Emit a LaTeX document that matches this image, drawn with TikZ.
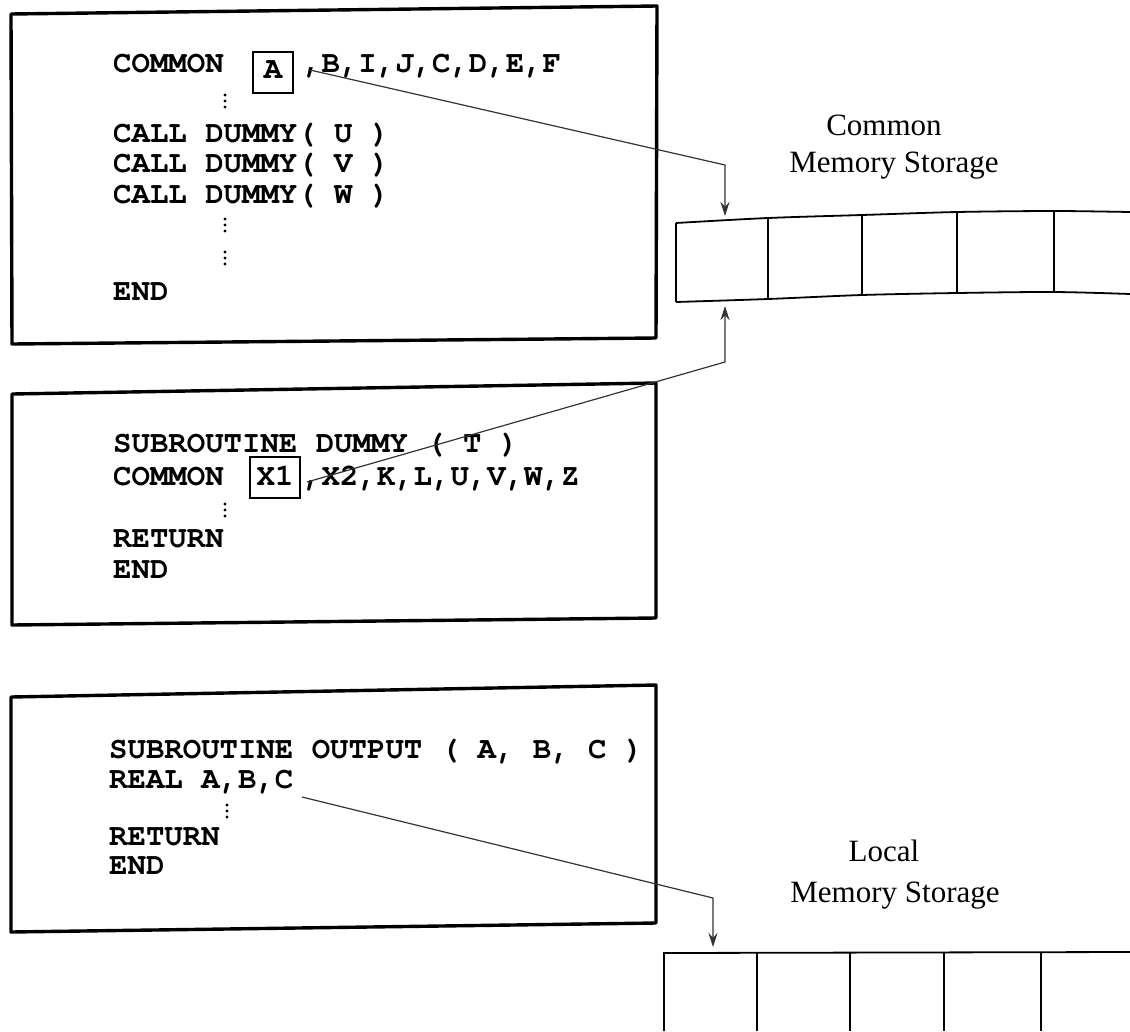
\documentclass[tikz,border=0pt]{standalone}
\usepackage{fontspec}
\setmainfont{Liberation Serif}
\newfontfamily\codefont{texgyrecursor}[Extension=.otf, UprightFont=*-bold, BoldFont=*-bold]
\usetikzlibrary{arrows.meta}
\begin{document}
\begin{tikzpicture}[x=1pt,y=-1pt,
  code/.style={font=\codefont\fontsize{30.7}{30}\selectfont, inner sep=0pt, anchor=base west, text height=18pt, text depth=4pt},
  boxed/.style={draw, line width=2.8pt, font=\codefont\fontsize{30.7}{30}\selectfont, inner sep=0pt, minimum height=41pt},
  lab/.style={font=\fontsize{31}{31}\selectfont, inner sep=0pt, anchor=base},
  frame/.style={line width=3.4pt, line join=round},
  cell/.style={line width=1.8pt},
  conn/.style={line width=1.2pt, black!80, -{Stealth[length=14pt,width=9pt]}},
  vd/.pic={\fill (0,-6) circle (1.7pt) (0,0) circle (1.7pt) (0,6) circle (1.7pt);}
]
\useasboundingbox (0,0) rectangle (1130,1031);

% ---------- Box 1 ----------
\draw[frame] (11,14) -- (657,6) -- (656,338) -- (12,344) -- cycle;
\node[code] (c1) at (113,72) {COMMON};
\node[boxed, text height=17.5pt, text depth=6pt, minimum width=40pt] (bA) at (273,72.5) {A};
\node[code] (c1b) at (303,72) {,B,I,J,C,D,E,F};
\pic at (225,101) {vd};
\node[code] (u1) at (113,142) {CALL DUMMY( U )};
\node[code] (v1) at (113,172) {CALL DUMMY( V )};
\node[code] (w1) at (113,203) {CALL DUMMY( W )};
\pic at (225,225) {vd};
\pic at (225,258) {vd};
\node[code] (e1) at (113,300) {END};

% ---------- Box 2 ----------
\draw[frame] (12,394) -- (656,383) -- (656,618) -- (12,625) -- cycle;
\node[code] (s2) at (113,452) {SUBROUTINE DUMMY ( T )};
\node[code] (c2) at (113,485) {COMMON};
\node[boxed, text height=17.5pt, text depth=2.5pt, minimum width=50pt] (bX) at (275,477.5) {X1};
\node[code] (c2b) at (303,485) {,X2,K,L,U,V,W,Z};
\pic at (225,510) {vd};
\node[code] (r2) at (113,547) {RETURN};
\node[code] (e2) at (113,578) {END};

% ---------- Box 3 ----------
\draw[frame] (11,697) -- (656,685) -- (656,923) -- (11,932) -- cycle;
\node[code] (s3) at (109,758) {SUBROUTINE OUTPUT ( A, B, C )};
\node[code] (re3) at (109,788) {REAL A,B,C};
\pic at (227,811) {vd};
\node[code] (r3) at (109,845) {RETURN};
\node[code] (e3) at (109,874) {END};

% ---------- Common memory storage ----------
\draw[cell] plot[smooth] coordinates {(676,223) (768,218) (862,215) (957,212) (1054,211) (1130,212)};
\draw[cell] plot[smooth] coordinates {(676,302) (768,299) (862,295) (957,293) (1054,292) (1130,294)};
\draw[cell] (676,223) -- (676,302);
\draw[cell] (768,218) -- (768,299);
\draw[cell] (862,215) -- (862,295);
\draw[cell] (957,212) -- (957,293);
\draw[cell] (1054,211) -- (1054,292);
\node[lab] (cm1) at (884,135) {Common};
\node[lab] (cm2) at (894,172) {Memory Storage};

% ---------- Local memory storage ----------
\draw[cell] (664,1031) -- (664,953) -- (1130,952);
\draw[cell] (757,953) -- (757,1031);
\draw[cell] (850,953) -- (850,1031);
\draw[cell] (944,953) -- (944,1031);
\draw[cell] (1041,952) -- (1041,1031);
\node[lab] (lm1) at (884,861) {Local};
\node[lab] (lm2) at (895,902) {Memory Storage};

% ---------- Connectors ----------
\coordinate (p1) at (310,70);
\coordinate (k1) at (725,165);
\coordinate (t1) at (725,216);
\draw[conn] (p1) -- (k1) -- (t1);

\coordinate (p2) at (307,482);
\coordinate (k2) at (725,362);
\coordinate (t2) at (725,306);
\draw[conn] (p2) -- (k2) -- (t2);

\coordinate (p3) at (302,797);
\coordinate (k3) at (713,898);
\coordinate (t3) at (713,947);
\draw[conn] (p3) -- (k3) -- (t3);
\end{tikzpicture}
\end{document}
